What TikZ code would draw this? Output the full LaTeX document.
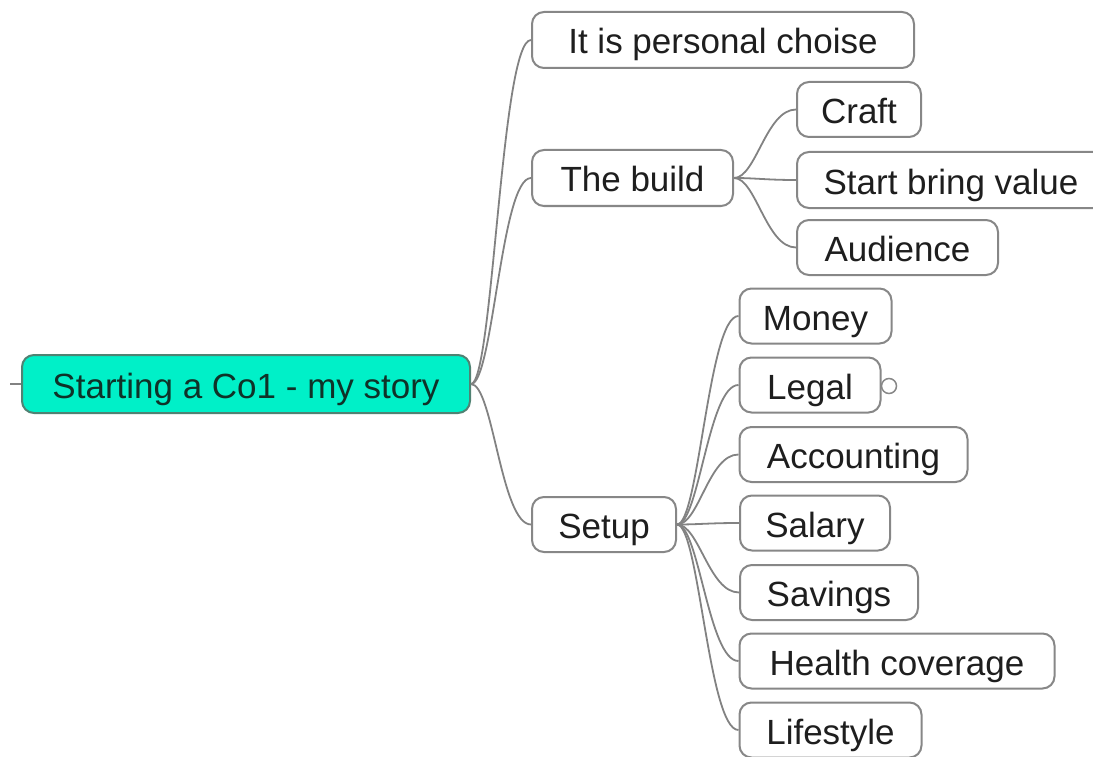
\documentclass[tikz,border=0pt]{standalone}
\usepackage{fontspec}
\setmainfont{Liberation Sans}
\definecolor{rootfill}{RGB}{0,240,200}
\definecolor{rootdraw}{RGB}{80,130,115}
\definecolor{roottext}{RGB}{15,50,40}
\definecolor{boxdraw}{RGB}{135,135,135}
\definecolor{linecol}{RGB}{130,130,130}
\definecolor{txt}{RGB}{30,30,30}
\tikzset{
  box/.style={draw=boxdraw, line width=2pt, rounded corners=12pt, fill=white,
    inner sep=0pt, minimum height=55pt, text=txt, text height=33pt, text depth=5pt,
    font=\fontsize{35}{40}\selectfont},
  rootbox/.style={box, draw=rootdraw, fill=rootfill, text=roottext, minimum height=58pt},
  conn/.style={draw=linecol, line width=1.8pt},
  knob/.style={circle, draw=boxdraw, line width=1.5pt, fill=white, minimum size=15pt, inner sep=0pt}
}
\begin{document}
\begin{tikzpicture}[x=1pt,y=-1pt]
\useasboundingbox (0,0) rectangle (1093,757);
% nodes
\node[rootbox, minimum width=448pt] (root) at (246,384) {Starting a Co1 - my story};
\node[box, minimum width=382pt, minimum height=56pt] (personal) at (723,40) {It is personal choise};
\node[box, minimum width=201pt, minimum height=56pt] (build) at (632.5,178) {The build};
\node[box, minimum width=124pt] (craft) at (859,109.5) {Craft};
\node[box, minimum width=308pt, minimum height=56pt] (value) at (951,180) {Start bring value};
\node[box, minimum width=201pt] (audience) at (897.5,247.5) {Audience};
\node[box, minimum width=144pt] (setup) at (604,524.5) {Setup};
\node[box, minimum width=152pt] (money) at (815.5,316) {Money};
\node[box, minimum width=141pt] (legal) at (810,385) {Legal};
\node[box, minimum width=228pt] (accounting) at (853.5,454.5) {Accounting};
\node[box, minimum width=150pt] (salary) at (815,523) {Salary};
\node[box, minimum width=178pt] (savings) at (829,592.5) {Savings};
\node[box, minimum width=315pt] (health) at (897,661) {Health coverage};
\node[box, minimum width=182pt] (lifestyle) at (830.5,730) {Lifestyle};
\node[knob] (legalknob) at (889,386) {};
\coordinate (stub) at (10,384);
% connectors
\draw[conn] (stub) -- (root.west);
\foreach \c in {personal,build,setup}
  \draw[conn] (root.east) .. controls +(22,0) and +(-30,0) .. (\c.west);
\foreach \c in {craft,value,audience}
  \draw[conn] (build.east) .. controls +(22,0) and +(-30,0) .. (\c.west);
\foreach \c in {money,legal,accounting,salary,savings,health,lifestyle}
  \draw[conn] (setup.east) .. controls +(22,0) and +(-30,0) .. (\c.west);
\end{tikzpicture}
\end{document}
